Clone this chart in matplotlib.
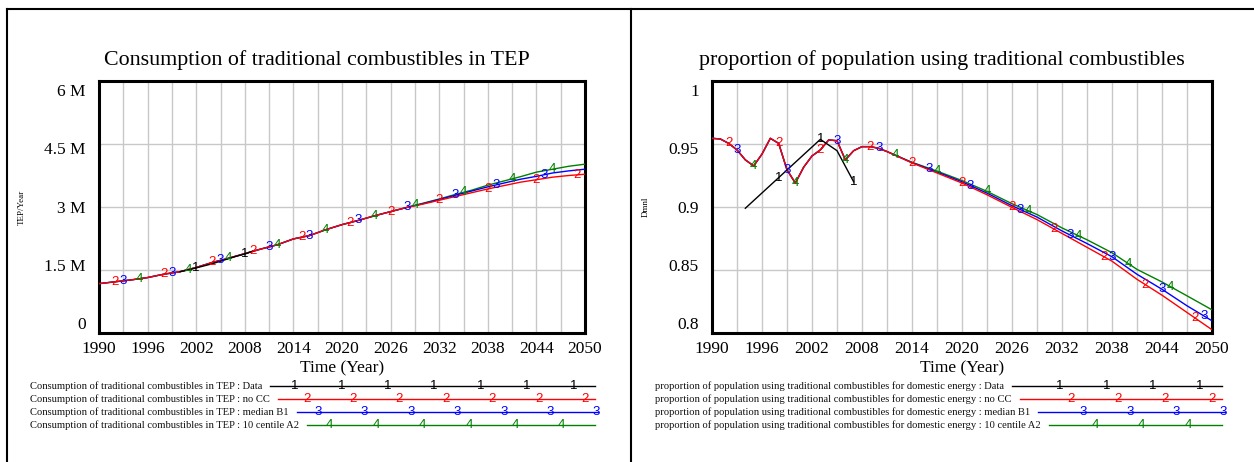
import numpy as np
import matplotlib
matplotlib.use("Agg")
import matplotlib.pyplot as plt
from matplotlib.lines import Line2D
from matplotlib.transforms import ScaledTranslation

# ---------------- data: left chart (TEP/Year, millions) ----------------
years_l = [1990, 1992, 1994, 1996, 1998, 2000, 2002, 2004, 2006, 2008, 2010,
           2012, 2014, 2016, 2018, 2020, 2022, 2024, 2026, 2028, 2030, 2032,
           2034, 2036, 2038, 2040, 2042, 2044, 2046, 2048, 2050]
tep_nocc = [1.175, 1.22, 1.265, 1.32, 1.40, 1.46, 1.56, 1.68, 1.78, 1.89, 2.00,
            2.10, 2.24, 2.32, 2.46, 2.58, 2.68, 2.79, 2.89, 2.99, 3.07, 3.16,
            3.25, 3.34, 3.43, 3.51, 3.59, 3.65, 3.71, 3.75, 3.78]
tep_b1 = [1.175, 1.22, 1.265, 1.32, 1.40, 1.46, 1.56, 1.68, 1.78, 1.89, 2.00,
          2.10, 2.24, 2.32, 2.46, 2.58, 2.68, 2.79, 2.89, 2.99, 3.08, 3.18,
          3.28, 3.38, 3.48, 3.57, 3.66, 3.73, 3.81, 3.86, 3.90]
tep_a2 = [1.175, 1.22, 1.265, 1.32, 1.40, 1.46, 1.56, 1.68, 1.78, 1.89, 2.00,
          2.10, 2.24, 2.32, 2.46, 2.58, 2.68, 2.79, 2.89, 2.99, 3.09, 3.19,
          3.30, 3.40, 3.52, 3.62, 3.72, 3.83, 3.90, 3.97, 4.02]
years_l_data = [2000, 2001, 2002, 2003, 2004, 2005, 2006, 2007, 2008, 2009]
tep_data = [1.46, 1.50, 1.55, 1.60, 1.65, 1.71, 1.77, 1.83, 1.88, 1.95]

# digit-marker years along each curve (left chart)
mk_l_data = [2002, 2008]
mk_l_nocc = [1992, 1998, 2004, 2009, 2015, 2021, 2026, 2032, 2038, 2044, 2049]
mk_l_b1 = [1993, 1999, 2005, 2011, 2016, 2022, 2028, 2034, 2039, 2045]
mk_l_a2 = [1995, 2001, 2006, 2012, 2018, 2024, 2029, 2035, 2041, 2046]

# ---------------- data: right chart (Dmnl) ----------------
years_r = [1990, 1991, 1992, 1993, 1994, 1995, 1996, 1997, 1998, 1999, 2000,
           2001, 2002, 2003, 2004, 2005, 2006, 2007, 2008, 2009, 2010, 2011,
           2014, 2017, 2020, 2023, 2026, 2029, 2032, 2035, 2038, 2041, 2044,
           2047, 2050]
prop_nocc = [0.9545, 0.954, 0.9505, 0.9453, 0.9374, 0.9326, 0.942, 0.9545,
             0.9505, 0.9295, 0.919, 0.9316, 0.9405, 0.9453, 0.9532, 0.9526,
             0.9374, 0.9447, 0.9479, 0.9479, 0.9466, 0.944, 0.935, 0.927,
             0.919, 0.9097, 0.8997, 0.890, 0.879, 0.868, 0.857, 0.8426, 0.830,
             0.8163, 0.8026]
prop_b1 = [0.9545, 0.954, 0.9505, 0.9453, 0.9374, 0.9326, 0.942, 0.9545,
           0.9505, 0.9295, 0.919, 0.9316, 0.9405, 0.9453, 0.9532, 0.9526,
           0.9374, 0.9447, 0.9479, 0.9479, 0.9466, 0.944, 0.9352, 0.9278,
           0.920, 0.911, 0.901, 0.892, 0.881, 0.871, 0.8605, 0.8466, 0.8347,
           0.8216, 0.8097]
prop_a2 = [0.9545, 0.954, 0.9505, 0.9453, 0.9374, 0.9326, 0.942, 0.9545,
           0.9505, 0.9295, 0.919, 0.9316, 0.9405, 0.9453, 0.9532, 0.9526,
           0.9374, 0.9447, 0.9479, 0.9479, 0.9466, 0.944, 0.9355, 0.9285,
           0.921, 0.9124, 0.9026, 0.894, 0.8834, 0.874, 0.8637, 0.8505, 0.8405,
           0.8295, 0.8184]
years_r_data = [1994, 2003, 2005, 2007]
prop_data = [0.899, 0.9537, 0.9447, 0.920]

mk_r_data = [1998, 2003, 2007]
mk_r_nocc = [1992, 1998, 2003, 2009, 2014, 2020, 2026, 2031, 2037, 2042, 2048]
mk_r_b1 = [1993, 1999, 2005, 2010, 2016, 2021, 2027, 2033, 2038, 2044, 2049]
mk_r_a2 = [1995, 2000, 2006, 2012, 2017, 2023, 2028, 2034, 2040, 2045]

x_ticks = [1990, 1996, 2002, 2008, 2014, 2020, 2026, 2032, 2038, 2044, 2050]
left_yticks = [0, 1.5, 3, 4.5, 6]
left_yticklabels = ["0", "1.5 M", "3 M", "4.5 M", "6 M"]
right_yticks = [0.8, 0.85, 0.9, 0.95, 1.0]
right_yticklabels = ["0.8", "0.85", "0.9", "0.95", "1"]

left_title = "Consumption of traditional combustibles in TEP"
right_title = "proportion of population using traditional combustibles"
left_prefix = "Consumption of traditional combustibles in TEP : "
right_prefix = "proportion of population using traditional combustibles for domestic energy : "
run_names = ["Data", "no CC", "median B1", "10 centile A2"]
run_digits = ["1", "2", "3", "4"]
run_colors = ["#000000", "#ff0000", "#0000ff", "#008000"]

# ---------------- figure ----------------
W, H = 1254, 462
fig = plt.figure(figsize=(W / 100, H / 100), dpi=100)
SERIF = ["Liberation Serif", "DejaVu Serif"]
SANS = ["Liberation Sans", "DejaVu Sans"]
DIGIT_SIZE = 9.5


def px_rect(x0, y0, x1, y1):
    return [x0 / W, 1 - y1 / H, (x1 - x0) / W, (y1 - y0) / H]


def setup_axes(ax, ylim, yticks, yticklabels, ylabel, ylabel_x):
    ax.set_xlim(1990, 2050)
    ax.set_ylim(*ylim)
    ax.set_xticks(x_ticks)
    ax.set_xticks(list(range(1990, 2051, 3)), minor=True)
    ax.set_yticks(yticks)
    ax.set_yticklabels(yticklabels)
    ax.grid(True, which="both", axis="x", color="#c8c8c8", lw=1.0)
    ax.grid(True, which="major", axis="y", color="#c8c8c8", lw=1.0)
    ax.set_axisbelow(True)
    ax.tick_params(which="both", length=0)
    ax.tick_params(axis="x", pad=6, labelsize=12.5)
    ax.tick_params(axis="y", pad=9.5, labelsize=12.5)
    for lab in ax.get_xticklabels() + ax.get_yticklabels():
        lab.set_fontfamily(SERIF)
    # vensim-like label placement: labels evenly compressed inside the box
    n = len(yticks)
    for i, lab in enumerate(ax.get_yticklabels()):
        dy = 9.7 - (9.7 + 9.0) * i / (n - 1)  # px; bottom label up, top label down
        lab.set_transform(lab.get_transform() +
                          ScaledTranslation(0, dy / 100, fig.dpi_scale_trans))
    for s in ax.spines.values():
        s.set_linewidth(2.2)
        s.set_color("black")
    ax.set_xlabel("Time (Year)", fontsize=12.5, family=SERIF, va="center")
    ax.xaxis.set_label_coords(0.5, (333 - 368) / 252)
    ax.set_ylabel(ylabel, fontsize=6.5, family=SERIF, va="center")
    ax.yaxis.set_label_coords(ylabel_x, 0.5)


def draw_series(ax, xs, ys, color, digit, mk_years):
    ax.plot(xs, ys, color=color, lw=1.0, zorder=3)
    my = np.interp(mk_years, xs, ys)
    for mx, yy in zip(mk_years, my):
        ax.text(mx, yy, digit, color=color, fontsize=DIGIT_SIZE, family=SANS,
                ha="center", va="center", zorder=4)


# left
axL = fig.add_axes(px_rect(99, 81, 585, 333))
setup_axes(axL, (0, 6), left_yticks, left_yticklabels, "TEP/Year", (22 - 99) / 486)
draw_series(axL, years_l, tep_a2, run_colors[3], "4", mk_l_a2)
draw_series(axL, years_l, tep_b1, run_colors[2], "3", mk_l_b1)
draw_series(axL, years_l, tep_nocc, run_colors[1], "2", mk_l_nocc)
draw_series(axL, years_l_data, tep_data, run_colors[0], "1", mk_l_data)

# right
axR = fig.add_axes(px_rect(712, 81, 1212, 333))
setup_axes(axR, (0.8, 1.0), right_yticks, right_yticklabels, "Dmnl", (646 - 712) / 500)
draw_series(axR, years_r, prop_a2, run_colors[3], "4", mk_r_a2)
draw_series(axR, years_r, prop_b1, run_colors[2], "3", mk_r_b1)
draw_series(axR, years_r, prop_nocc, run_colors[1], "2", mk_r_nocc)
draw_series(axR, years_r_data, prop_data, run_colors[0], "1", mk_r_data)

# titles
fig.text(317 / W, 1 - 65 / H, left_title, ha="center", va="baseline",
         fontsize=15.8, family=SERIF)
fig.text(942 / W, 1 - 65 / H, right_title, ha="center", va="baseline",
         fontsize=15.8, family=SERIF)

# panel frames
for (xa, ya, xb, yb) in [(6.7, 9.3, W, 9.3), (6.7, 9.3, 6.7, H), (630.7, 9.3, 630.7, H)]:
    fig.add_artist(Line2D([xa / W, xb / W], [1 - ya / H, 1 - yb / H],
                          transform=fig.transFigure, color="black", lw=1.5))

# legends
renderer = fig.canvas.get_renderer()
row_y = [385.7, 398.7, 411.7, 424.7]


def draw_legend(prefix, text_x, line_end, mk_x0, mk_step, mk_off):
    for k, name in enumerate(run_names):
        y = row_y[k]
        t = fig.text(text_x / W, 1 - y / H, prefix + name, ha="left", va="center",
                     fontsize=7.55, family=SERIF, color="#111111")
        bb = t.get_window_extent(renderer)
        x_start = bb.x1 + 8
        x_end = line_end + (3 if k == 2 else 0)
        fig.add_artist(Line2D([x_start / W, x_end / W], [1 - y / H, 1 - y / H],
                              transform=fig.transFigure, color=run_colors[k], lw=1.0))
        mx = mk_x0 + mk_off * k
        while mx <= x_end + 1:
            if mx >= x_start:
                fig.text(mx / W, 1 - y / H, run_digits[k], ha="center", va="center",
                         fontsize=DIGIT_SIZE, family=SANS, color=run_colors[k])
            mx += mk_step


draw_legend(left_prefix, 30, 595, 295, 46.4, 11.6)
draw_legend(right_prefix, 655, 1222, 1059.8, 46.7, 11.7)

fig.savefig("out.png", dpi=100)
